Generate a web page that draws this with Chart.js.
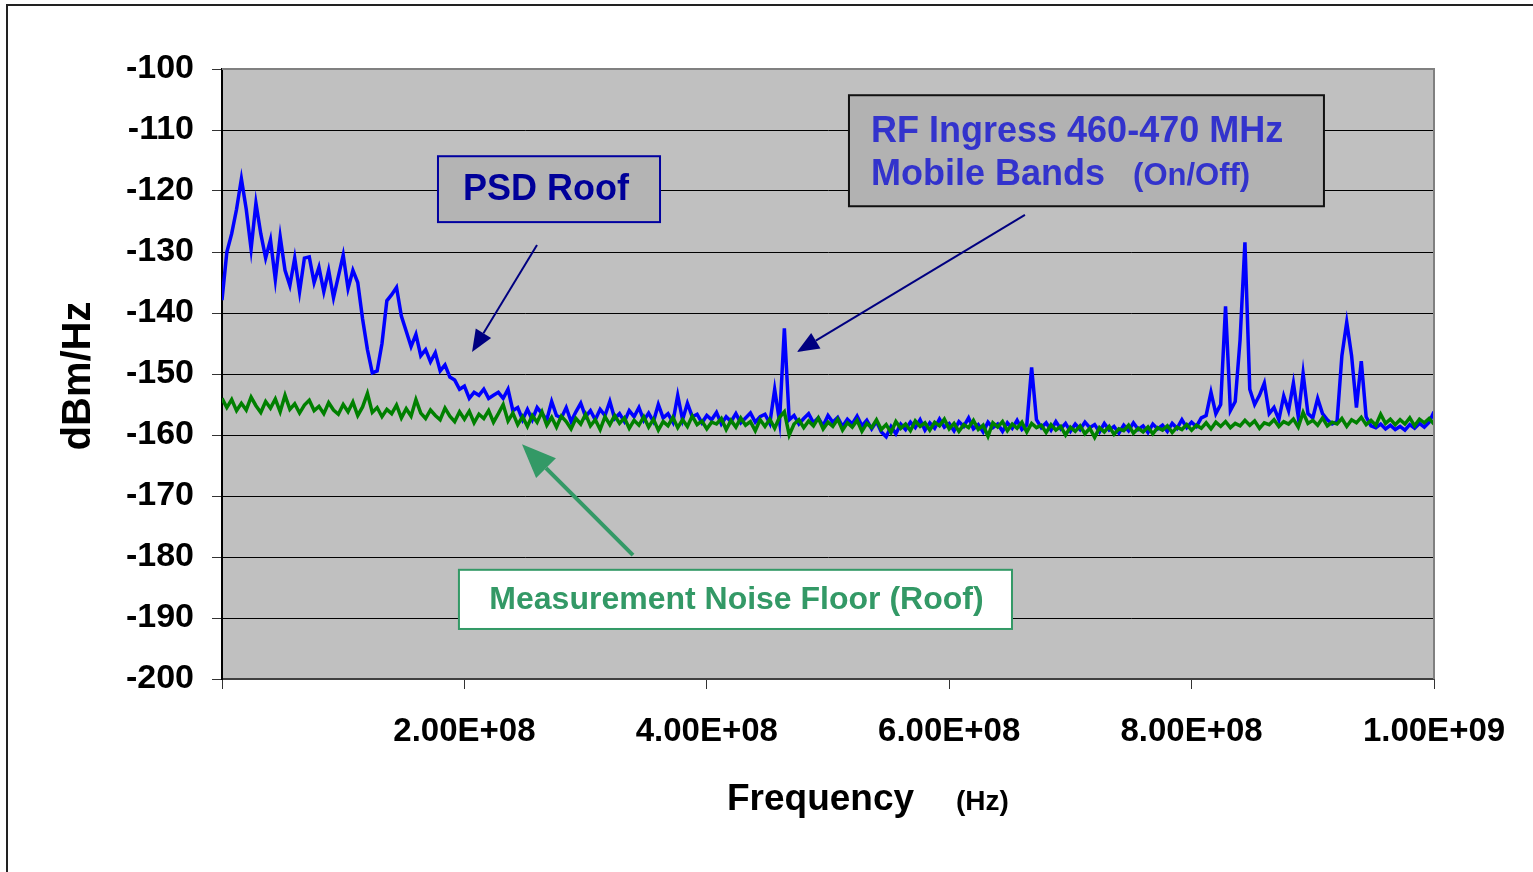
<!DOCTYPE html>
<html>
<head>
<meta charset="utf-8">
<title>PSD Roof vs Measurement Noise Floor</title>
<script src="https://cdn.jsdelivr.net/npm/chart.js@4.4.1/dist/chart.umd.min.js"></script>
<style>
  html, body { margin: 0; padding: 0; background: #fff; }
  #wrap { width: 1533px; height: 872px; }
</style>
</head>
<body>
<div id="wrap"><canvas id="psdChart" width="1533" height="872"></canvas></div>
<script>
// sweep: one reading every 4 MHz from 0 to 1 GHz (251 readings)
const sweepStepHz = 4e6;

// blue trace, dBm/Hz (PSD Roof)
const psdRoofDbm = [
  -137.9, -130, -127, -123, -118, -123, -129.5, -122, -127, -131,
  -128, -134.5, -127.5, -133, -135.5, -131, -136.5, -131, -130.8, -135,
  -132.5, -136.5, -133, -137.5, -134, -130.5, -136, -133, -135, -141,
  -146, -149.8, -149.5, -145, -138, -137, -135.8, -140.5, -143, -145.5,
  -143.5, -147, -146, -148, -146.5, -149.5, -148.5, -150.5, -151, -152.5,
  -152, -154, -153, -153.5, -152.5, -154, -153.5, -153, -154, -152.5,
  -156, -155.5, -157.5, -155.8, -157.5, -155.5, -156.5, -157.5, -154.5, -156.8,
  -157.2, -155.5, -157.8, -156.2, -154.8, -157, -156, -157.5, -155.8, -156.8,
  -154.5, -157.3, -156.5, -157.8, -156, -157, -155.5, -157.6, -156.4, -157.8,
  -155, -157.2, -156.5, -157.9, -153.5, -157.5, -154.8, -157, -156.6, -158,
  -156.8, -157.5, -156.3, -158.2, -157, -157.8, -156.5, -158, -157.2, -156.4,
  -157.9, -157, -156.6, -158.1, -152.5, -157.8, -142.5, -157.5, -156.8, -158.2,
  -157.3, -156.5, -158, -157.2, -158.5, -156.8, -157.9, -157.1, -158.6, -157.4,
  -158.2, -156.9, -158.5, -157.6, -159, -157.8, -159.5, -160.3, -158.6, -159.8,
  -158.2, -159.1, -157.9, -158.8, -157.5, -159.2, -158, -158.9, -157.4, -158.7,
  -158.1, -159.3, -157.8, -158.6, -157.2, -159, -158.3, -159.5, -157.9, -158.8,
  -158.2, -159.4, -158, -158.9, -157.6, -159.1, -158.4, -148.9, -157.5, -158.8,
  -158, -159.2, -157.8, -159, -158.1, -159.4, -158.2, -159.1, -157.9, -158.8,
  -158.3, -159.5, -158.1, -159.2, -158.6, -159.7, -158.4, -159.3, -158, -159.1,
  -158.5, -159.6, -158.2, -159, -158.4, -159.4, -158.1, -158.9, -157.5, -158.8,
  -157.9, -158.6, -157.2, -156.8, -153, -156.5, -155, -138.9, -156, -154.5,
  -144.4, -128.4, -152.5, -155, -153.5, -151.5, -156.5, -155.5, -157.5, -153.6,
  -156, -151.5, -157, -149.9, -156.5, -157.2, -154, -156.5, -157.5, -158.2,
  -157.8, -147, -141.5, -147, -155.5, -147.9, -157, -158.5, -158.8, -158.2,
  -159, -158.4, -159.1, -158.6, -159.2, -158.3, -158.9, -158.1, -158.7, -157.9,
  -156.2
];

// green trace, dBm/Hz (Measurement Noise Floor)
const noiseFloorDbm = [
  -154, -155.5, -154.2, -156, -154.8, -155.9, -153.8, -155.2, -156.3, -154.5,
  -155.6, -154.1, -156.2, -153.5, -155.8, -154.9, -156.4, -155.1, -154.3, -156,
  -155.3, -156.5, -154.7, -155.9, -156.6, -155, -156.2, -154.6, -156.8, -155.4,
  -153.2, -156.3, -155.5, -157, -155.8, -156.5, -155.1, -157.2, -155.7, -156.9,
  -154.2, -156.4, -157.3, -155.9, -156.8, -157.5, -155.6, -156.9, -157.8, -156.2,
  -157.4, -156.1, -158, -156.6, -157.3, -156, -157.9, -156.5, -155, -157.7,
  -156.4, -158.3, -157, -158.6, -156.8, -157.9, -156.2, -158.4, -157.1, -158.7,
  -156.9, -157.8, -159, -157.3, -158.2, -156.6, -158.5, -157.5, -159.1, -157,
  -158.3, -156.8, -158.1, -157.2, -158.9, -157.6, -158.4, -157, -158.7, -157.4,
  -159.2, -157.8, -158.5, -157.1, -158.8, -157.5, -158.6, -156.9, -158.3, -157.7,
  -159, -157.9, -158.2, -157.3, -159.1, -157.6, -158.7, -157.2, -158.4, -157.8,
  -159.3, -157.5, -158.6, -157.4, -158.9, -157.1, -156.2, -160, -158.2, -157.5,
  -158.8, -157.7, -158.5, -157.2, -159, -157.9, -158.6, -157.4, -159.2, -158,
  -158.7, -157.6, -159.4, -158.1, -158.8, -157.5, -159.1, -158.3, -159.6, -157.8,
  -158.9, -158.2, -159.3, -157.7, -158.6, -158, -159.2, -157.9, -158.5, -157.4,
  -159, -158.1, -159.4, -158.3, -158.8, -157.6, -159.1, -158.4, -160.2, -158,
  -158.7, -157.8, -159.3, -158.2, -158.9, -157.9, -159.5, -158.1, -158.8, -158.4,
  -159.6, -158.3, -159.2, -158.6, -160, -158.7, -159.4, -158.5, -159.8, -158.9,
  -160.4, -158.8, -159.5, -158.6, -159.9, -159, -159.3, -158.4, -159.7, -158.9,
  -159.5, -158.7, -159.8, -158.8, -159.2, -158.5, -159.6, -158.7, -159.1, -158.3,
  -159.2, -158.4, -158.9, -158, -159, -157.9, -158.6, -157.8, -158.8, -158.1,
  -158.5, -157.6, -158.4, -157.7, -158.9, -158, -158.3, -157.5, -158.6, -157.8,
  -158.2, -157.4, -158.7, -156.3, -158.1, -157.6, -158.4, -157.2, -158.5, -157.9,
  -158.2, -157.3, -158.6, -157.5, -158, -157.1, -158.3, -157.6, -158.4, -156.6,
  -158.1, -157.4, -158.3, -157.5, -158.2, -157.2, -158.5, -157.4, -158, -157.3,
  -158.2
];

const freqTickLabels = ['', '2.00E+08', '4.00E+08', '6.00E+08', '8.00E+08', '1.00E+09'];
const yTickLabels = ['-200', '-190', '-180', '-170', '-160', '-150', '-140', '-130', '-120', '-110', '-100'];

const FONT = '"Liberation Sans", Arial, sans-serif';

const toPoints = vals => vals.map((v, i) => ({ x: i * sweepStepHz, y: v }));

function drawArrow(ctx, x0, y0, x1, y1, color, width, headLen, headWidth) {
  const ang = Math.atan2(y1 - y0, x1 - x0);
  const bx = x1 - headLen * Math.cos(ang);
  const by = y1 - headLen * Math.sin(ang);
  ctx.strokeStyle = color;
  ctx.lineWidth = width;
  ctx.beginPath();
  ctx.moveTo(x0, y0);
  ctx.lineTo(bx, by);
  ctx.stroke();
  ctx.fillStyle = color;
  ctx.beginPath();
  ctx.moveTo(x1, y1);
  ctx.lineTo(bx + headWidth / 2 * Math.sin(ang), by - headWidth / 2 * Math.cos(ang));
  ctx.lineTo(bx - headWidth / 2 * Math.sin(ang), by + headWidth / 2 * Math.cos(ang));
  ctx.closePath();
  ctx.fill();
}

const chartDecor = {
  id: 'chartDecor',
  beforeDraw(chart) {
    const { ctx, chartArea: a } = chart;
    ctx.save();
    ctx.fillStyle = '#ffffff';
    ctx.fillRect(0, 0, chart.width, chart.height);
    ctx.fillStyle = '#c0c0c0';
    ctx.fillRect(a.left, a.top, a.right - a.left, a.bottom - a.top);
    // outer frame (left and top edges only are visible)
    ctx.strokeStyle = '#222';
    ctx.lineWidth = 2;
    ctx.beginPath();
    ctx.moveTo(7, chart.height);
    ctx.lineTo(7, 5);
    ctx.lineTo(chart.width, 5);
    ctx.stroke();
    ctx.restore();
  },
  afterDatasetsDraw(chart) {
    const { ctx, chartArea: a } = chart;
    const xs = chart.scales.x, ys = chart.scales.y;
    const px = (f, d) => [xs.getPixelForValue(f), ys.getPixelForValue(d)];
    ctx.save();

    // plot border top / right
    ctx.strokeStyle = '#808080';
    ctx.lineWidth = 2;
    ctx.beginPath();
    ctx.moveTo(a.left, a.top);
    ctx.lineTo(a.right, a.top);
    ctx.lineTo(a.right, a.bottom);
    ctx.stroke();

    // PSD Roof callout
    let [l, t] = px(1.782e8, -114.3);
    let [r, b] = px(3.614e8, -125.1);
    ctx.fillStyle = '#b4b4b4';
    ctx.fillRect(l, t, r - l, b - t);
    ctx.strokeStyle = '#0000a0';
    ctx.lineWidth = 2;
    ctx.strokeRect(l, t, r - l, b - t);
    ctx.fillStyle = '#000099';
    ctx.font = 'bold 36px ' + FONT;
    ctx.textAlign = 'center';
    ctx.textBaseline = 'middle';
    ctx.fillText('PSD Roof', (l + r) / 2 - 3, (t + b) / 2 + 1);
    let [x0, y0] = px(2.599e8, -128.85);
    let [x1, y1] = px(2.063e8, -146.4);
    drawArrow(ctx, x0, y0, x1, y1, '#000080', 2, 22, 18);

    // RF ingress callout
    [l, t] = px(5.173e8, -104.3);
    [r, b] = px(9.092e8, -122.5);
    ctx.fillStyle = '#b2b2b2';
    ctx.fillRect(l, t, r - l, b - t);
    ctx.strokeStyle = '#111';
    ctx.lineWidth = 2;
    ctx.strokeRect(l, t, r - l, b - t);
    ctx.fillStyle = '#3333cc';
    ctx.textAlign = 'left';
    ctx.textBaseline = 'alphabetic';
    ctx.font = 'bold 36px ' + FONT;
    let [tx, ty] = px(5.355e8, -111.97);
    ctx.fillText('RF Ingress 460-470 MHz', tx, ty);
    [tx, ty] = px(5.355e8, -119.02);
    ctx.fillText('Mobile Bands', tx, ty);
    ctx.font = 'bold 31px ' + FONT;
    [tx, ty] = px(7.517e8, -119.02);
    ctx.fillText('(On/Off)', tx, ty);
    [x0, y0] = px(6.625e8, -123.9);
    [x1, y1] = px(4.744e8, -146.4);
    drawArrow(ctx, x0, y0, x1, y1, '#000080', 2, 22, 18);

    // noise floor callout
    [l, t] = px(1.955e8, -182.1);
    [r, b] = px(6.518e8, -191.8);
    ctx.fillStyle = '#ffffff';
    ctx.fillRect(l, t, r - l, b - t);
    ctx.strokeStyle = '#339966';
    ctx.lineWidth = 2;
    ctx.strokeRect(l, t, r - l, b - t);
    ctx.fillStyle = '#339966';
    ctx.font = 'bold 32px ' + FONT;
    ctx.textAlign = 'center';
    ctx.textBaseline = 'middle';
    ctx.fillText('Measurement Noise Floor (Roof)', (l + r) / 2 + 1, (t + b) / 2 + 1);
    [x0, y0] = px(3.391e8, -179.7);
    [x1, y1] = px(2.475e8, -161.5);
    drawArrow(ctx, x0, y0, x1, y1, '#339966', 4, 34, 28);

    ctx.restore();
  },
  afterDraw(chart) {
    const { ctx } = chart;
    ctx.save();
    ctx.fillStyle = '#000';
    ctx.textBaseline = 'alphabetic';
    ctx.textAlign = 'left';
    // x title
    ctx.font = 'bold 37px ' + FONT;
    ctx.fillText('Frequency', 727, 810);
    ctx.font = 'bold 28px ' + FONT;
    ctx.fillText('(Hz)', 956, 810);
    // y title
    ctx.translate(90, 376);
    ctx.rotate(-Math.PI / 2);
    ctx.textAlign = 'center';
    ctx.font = 'bold 40px ' + FONT;
    ctx.fillText('dBm/Hz', 0, 0);
    ctx.restore();
  }
};

new Chart(document.getElementById('psdChart'), {
  type: 'line',
  data: {
    datasets: [
      {
        label: 'PSD Roof',
        data: toPoints(psdRoofDbm),
        borderColor: '#0000ff',
        borderWidth: 3.5,
        pointRadius: 0,
        tension: 0,
        order: 1
      },
      {
        label: 'Measurement Noise Floor (Roof)',
        data: toPoints(noiseFloorDbm),
        borderColor: '#008000',
        borderWidth: 3.5,
        pointRadius: 0,
        tension: 0,
        order: 0
      }
    ]
  },
  options: {
    responsive: false,
    animation: false,
    events: [],
    layout: { padding: { left: 0, right: 99, top: 69, bottom: 0 } },
    plugins: { legend: { display: false }, tooltip: { enabled: false } },
    scales: {
      x: {
        type: 'linear',
        min: 0,
        max: 1e9,
        afterFit: s => { s.height = 193; },
        grid: { drawOnChartArea: false, drawTicks: true, tickLength: 10, tickColor: '#333' },
        border: { color: '#404040', width: 2 },
        ticks: {
          stepSize: 2e8,
          maxRotation: 0,
          autoSkip: false,
          padding: 23,
          color: '#000',
          font: { family: FONT, size: 33, weight: 'bold' },
          callback: (v, i) => freqTickLabels[i]
        }
      },
      y: {
        min: -200,
        max: -100,
        afterFit: s => { s.width = 222; },
        grid: {
          color: c => (c.tick && c.tick.value === -100) ? '#808080' : '#000',
          lineWidth: 1,
          tickLength: 10,
          tickColor: '#333'
        },
        border: { color: '#000', width: 2 },
        ticks: {
          stepSize: 10,
          padding: 18,
          color: '#000',
          font: { family: FONT, size: 34, weight: 'bold' },
          callback: (v, i) => yTickLabels[i]
        }
      }
    }
  },
  plugins: [chartDecor]
});
</script>
</body>
</html>
